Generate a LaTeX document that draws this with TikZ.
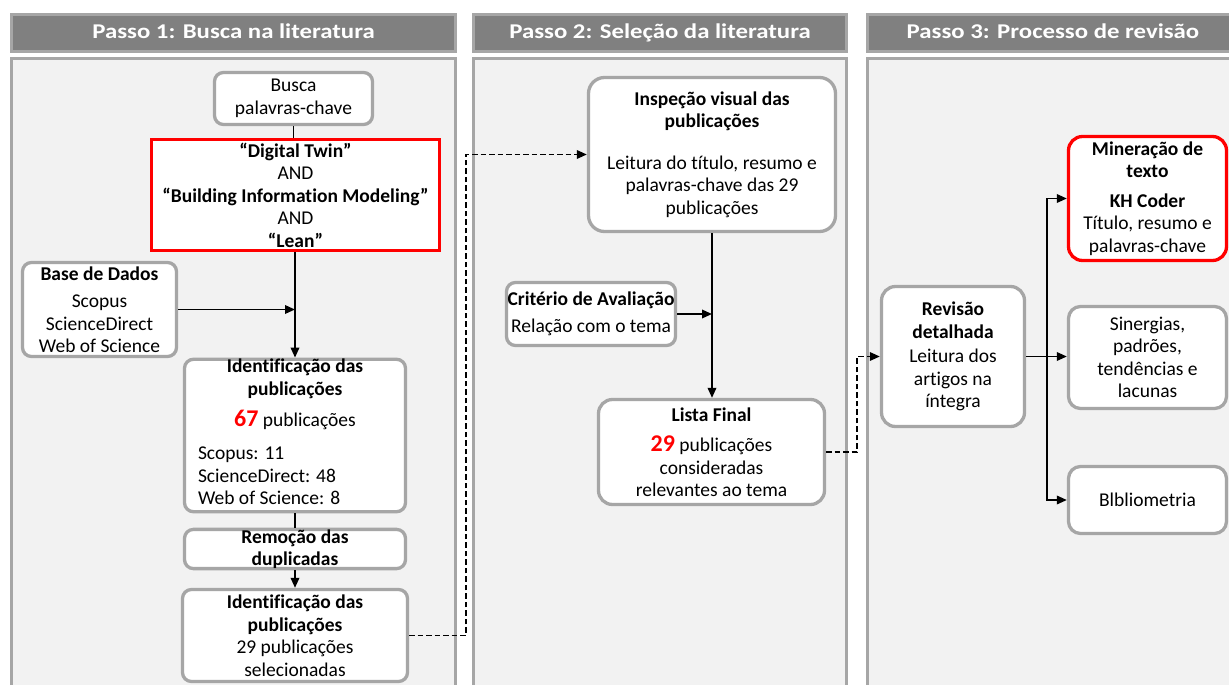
\documentclass[tikz,border=0pt]{standalone}
\usepackage{fontspec}
\usepackage{graphicx}
\setmainfont{Carlito}[Ligatures=NoCommon]
\usetikzlibrary{arrows.meta}
\definecolor{hdrgray}{HTML}{808080}
\definecolor{bordgray}{HTML}{A6A6A6}
\definecolor{panelgray}{HTML}{F2F2F2}
\newcommand\fs{\fontsize{19.5}{22.5}\selectfont}
\newcommand\bignum[1]{{\color{red}\fontsize{24}{22}\selectfont\bfseries #1}}
\newcommand\hdrtext[1]{\scalebox{1.18}[1]{#1}}
\begin{document}
\begin{tikzpicture}[x=1pt,y=-1pt,
 box/.style={draw=bordgray, line width=3.3pt, fill=white, rounded corners=9pt, align=center, inner sep=0pt, font=\fs},
 redbox/.style={draw=red, line width=3.3pt, fill=white, align=center, inner sep=0pt, font=\fs},
 header/.style={draw=bordgray, fill=hdrgray, line width=3pt, text=white, font=\fontsize{21}{24}\selectfont\bfseries, inner sep=0pt, text height=14pt, text depth=3pt},
 panel/.style={draw=bordgray, fill=panelgray, line width=3pt},
 arr/.style={line width=1.8pt, -{Triangle[length=10pt,width=8.5pt]}},
 plainline/.style={line width=1.8pt},
 dashline/.style={line width=1.8pt, dash pattern=on 5.5pt off 3pt, -{Triangle[length=10pt,width=8.5pt]}},
]
\clip (0,0) rectangle (1229,685);
\fill[white] (0,0) rectangle (1229,685);
% panels
\draw[panel] (11.5,58.5) rectangle (455.5,700);
\draw[panel] (473.5,58.5) rectangle (846.5,700);
\draw[panel] (867.5,58.5) rectangle (1245,700);
% headers
\node[header, minimum width=444pt, minimum height=37pt] (h1) at (233.5,33) {\hdrtext{Passo 1: Busca na literatura}};
\node[header, minimum width=373pt, minimum height=37pt] (h2) at (660,33) {\hdrtext{Passo 2: Seleção da literatura}};
\node[header, minimum width=371pt, minimum height=37pt] (h3) at (1053,33) {\hdrtext{Passo 3: Processo de revisão}};

% Passo 1
\node[box, minimum width=158pt, minimum height=52pt] (busca) at (293.5,98.5) {Busca\\palavras-chave};
\node[redbox, minimum width=288pt, minimum height=111pt] (red) at (295.5,195)
 {\textbf{“Digital Twin”}\\AND\\\textbf{“Building Information Modeling”}\\AND\\\textbf{“Lean”}};
\node[box, minimum width=154pt, minimum height=94pt] (base) at (99.5,309.5)
 {\textbf{Base de Dados}\\[5pt]Scopus\\ScienceDirect\\Web of Science};
\node[box, minimum width=221pt, minimum height=152pt] (ident1) at (295,435.5)
 {\textbf{Identificação das}\\\textbf{publicações}\\[9pt]\bignum{67}~publicações\\[13pt]
  \makebox[194pt][l]{\begin{tabular}{@{}l@{}}Scopus: 11\\ScienceDirect: 48\\Web of Science: 8\end{tabular}}};
\node[box, minimum width=221pt, minimum height=39pt] (remo) at (295,549)
 {\textbf{Remoção das}\\\textbf{duplicadas}};
\node[box, minimum width=225pt, minimum height=92pt] (ident2) at (295,635.5)
 {\textbf{Identificação das}\\\textbf{publicações}\\29 publicações\\selecionadas};

% Passo 2
\node[box, rounded corners=16pt, minimum width=247pt, minimum height=154pt] (insp) at (712,154.5)
 {\textbf{Inspeção visual das}\\\textbf{publicações}\\[19pt]Leitura do título, resumo e\\palavras-chave das 29\\publicações};
\node[box, minimum width=169pt, minimum height=63pt] (crit) at (591,314)
 {\textbf{Critério de Avaliação}\\[4pt]Relação com o tema};
\node[box, rounded corners=14pt, minimum width=226pt, minimum height=105pt] (lista) at (711.5,452)
 {\textbf{Lista Final}\\[8pt]\bignum{29}~publicações\\consideradas\\relevantes ao tema};

% Passo 3
\node[box, rounded corners=14pt, minimum width=143pt, minimum height=140pt] (rev) at (953,356.5)
 {\textbf{Revisão}\\\textbf{detalhada}\\[2pt]Leitura dos\\artigos na\\íntegra};
\node[box, draw=red, rounded corners=14pt, minimum width=158pt, minimum height=124pt] (mine) at (1147.5,198.5)
 {\textbf{Mineração de}\\\textbf{texto}\\[7pt]\textbf{KH Coder}\\Título, resumo e\\palavras-chave};
\node[box, rounded corners=12pt, minimum width=158pt, minimum height=102pt] (siner) at (1147.5,357.5)
 {Sinergias,\\padrões,\\tendências e\\lacunas};
\node[box, rounded corners=12pt, minimum width=158pt, minimum height=67pt] (bib) at (1147.5,500)
 {Blbliometria};

% connectors
\coordinate (j1) at (466,0);
\coordinate (j2) at (857,0);
\coordinate (j3) at (1047,0);
\draw[plainline] (busca.south) -- (busca.south |- red.north);
\draw[arr] (red.south -| ident1.north) -- (ident1.north);
\draw[arr] (base.east) -- (base.east -| ident1.north);
\draw[plainline] (ident1.south) -- (remo.north);
\draw[arr] (remo.south) -- (ident2.north);
\draw[dashline] (ident2.east) -- (ident2.east -| j1) -- (insp.west -| j1) -- (insp.west);
\draw[arr] (insp.south) -- (insp.south |- lista.north);
\draw[arr] (crit.east) -- (crit.east -| insp.south);
\draw[dashline] (lista.east) -- (lista.east -| j2) -- (rev.west -| j2) -- (rev.west);
\draw[arr] (rev.east) -- (rev.east -| siner.west);
\draw[arr] (rev.east -| j3) |- (mine.west);
\draw[arr] (rev.east -| j3) |- (bib.west);
\end{tikzpicture}
\end{document}
